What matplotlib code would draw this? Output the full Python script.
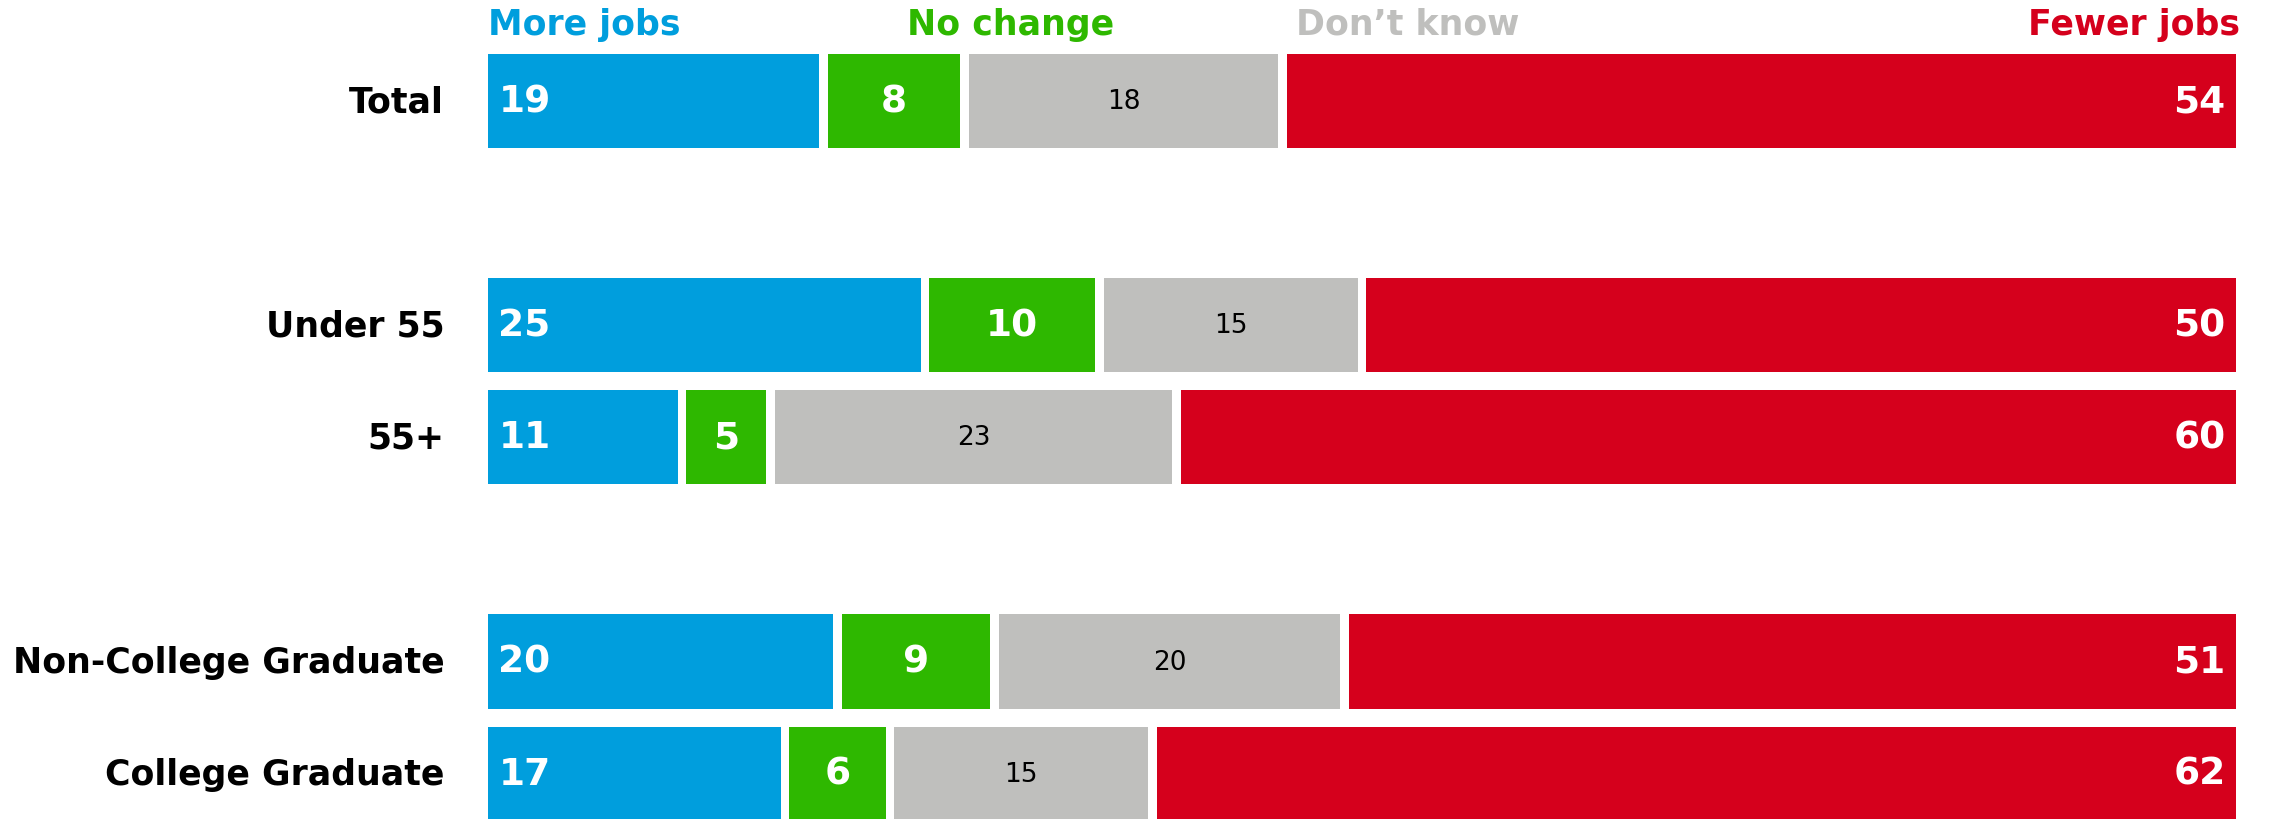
import numpy as np
import matplotlib
matplotlib.use('Agg')
import matplotlib.pyplot as plt

# dane
groups = ['Total', '', 'Under 55', '55+', '', 'Non-College Graduate', 'College Graduate']
more_jobs = [19, None, 25, 11, None, 20, 17]
no_change = [8, None, 10, 5, None, 9, 6]
dont_know = [18, None, 15, 23, None, 20, 15]
fewer_jobs = [54, None, 50, 60, None, 51, 62]

series_names = ['More jobs', 'No change', 'Don\u2019t know', 'Fewer jobs']
colors = ['#009EDD', '#2EB800', '#BFBFBD', '#D5001C']
header_x = [0, 24.0, 46.2, 100.2]

plt.rcParams['font.family'] = ['DejaVu Sans']

fig = plt.figure(figsize=(22.69, 8.2), dpi=100)
ax = fig.add_axes([0.215, 0.0, 0.7705, 1.0])

gap = 0.5
bar_h = 0.84
label_size = 25

for i, name in enumerate(groups):
    if more_jobs[i] is None:
        continue
    raw = [more_jobs[i], no_change[i], dont_know[i], fewer_jobs[i]]
    total = sum(raw)
    # normalizacja do 100%, jak w oryginale
    vals = [v * 100 / total for v in raw]
    left = 0
    for k, v in enumerate(vals):
        l = left + (gap / 2 if k > 0 else 0)
        r = left + v - (gap / 2 if k < 3 else 0)
        ax.barh(i, r - l, left=l, height=bar_h, color=colors[k], linewidth=0)
        if k == 0:
            ax.text(l + 0.6, i, str(raw[k]), color='white', fontsize=27,
                    fontweight='bold', ha='left', va='center')
        elif k == 1:
            ax.text((l + r) / 2, i, str(raw[k]), color='white', fontsize=27,
                    fontweight='bold', ha='center', va='center')
        elif k == 2:
            ax.text((l + r) / 2, i, str(raw[k]), color='black', fontsize=19,
                    ha='center', va='center')
        else:
            ax.text(r - 0.6, i, str(raw[k]), color='white', fontsize=27,
                    fontweight='bold', ha='right', va='center')
        left += v
    ax.text(-2.5, i, name, fontsize=label_size, fontweight='bold',
            ha='right', va='center', color='black')

# nagłówki serii
for k, s in enumerate(series_names):
    ha = 'right' if k == 3 else 'left'
    ax.text(header_x[k], -0.69, s, color=colors[k], fontsize=label_size,
            fontweight='bold', ha=ha, va='center')

ax.set_xlim(0, 100)
ax.set_ylim(6.405, -0.91)
ax.axis('off')

fig.savefig('out.png', dpi=100)
